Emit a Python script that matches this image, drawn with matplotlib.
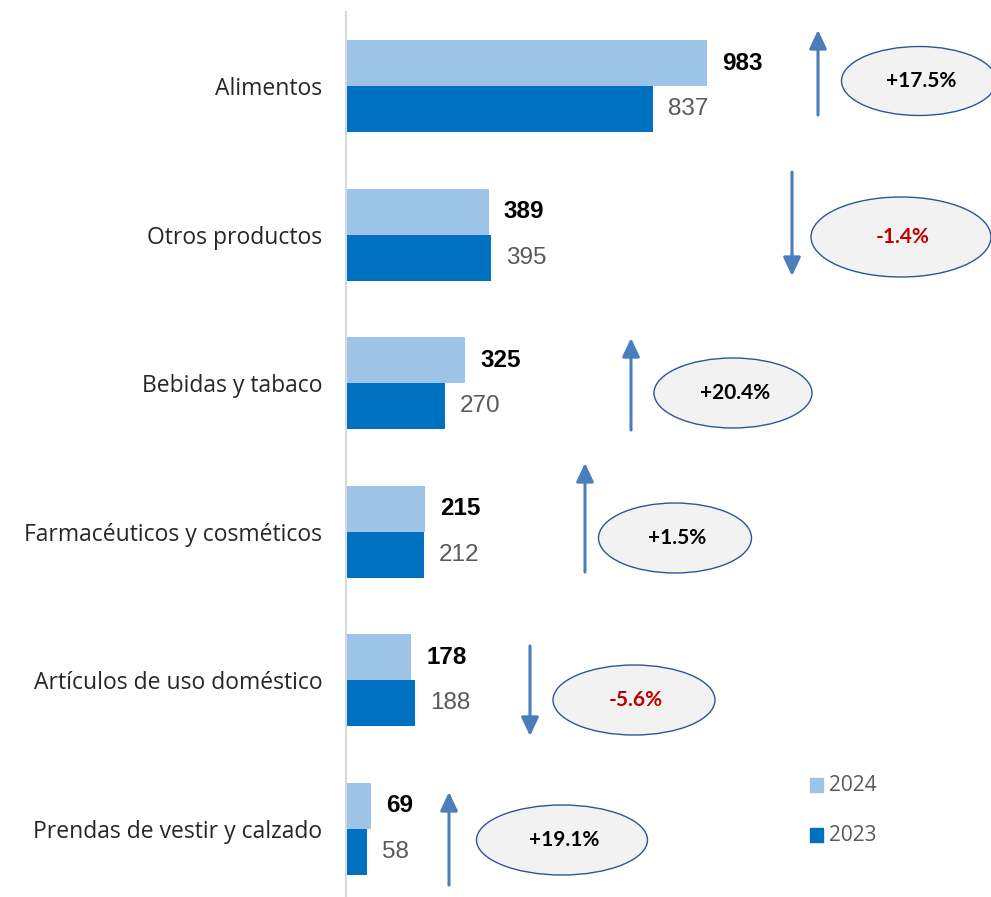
import matplotlib
matplotlib.use("Agg")
import matplotlib.pyplot as plt
from matplotlib.patches import Ellipse, FancyArrowPatch

categories = ["Alimentos", "Otros productos", "Bebidas y tabaco",
              "Farmacéuticos y cosméticos", "Artículos de uso doméstico",
              "Prendas de vestir y calzado"]
values_2024 = [983, 389, 325, 215, 178, 69]
values_2023 = [837, 395, 270, 212, 188, 58]
pct_change = [17.5, -1.4, 20.4, 1.5, -5.6, 19.1]

W, H = 991, 897
fig = plt.figure(figsize=(W / 100, H / 100), dpi=100)
ax_left, ax_top = 346, 12
ax = fig.add_axes([ax_left / W, 0, (W - ax_left) / W, (H - ax_top) / H])

px_per_unit = 361 / 983
row_pitch = 148.6
row0 = 86
xmax = (W - ax_left) / px_per_unit
ax.set_xlim(0, xmax)
ax.set_ylim((H - row0) / row_pitch, (ax_top - row0) / row_pitch)

def px_x(p):
    return (p - ax_left) / px_per_unit

def px_y(p):
    return (p - row0) / row_pitch

c24, c23 = "#9DC3E6", "#0070C0"
bh = 46 / row_pitch
ys = list(range(len(categories)))
ax.barh([y - bh / 2 for y in ys], values_2024, height=bh, color=c24, label="2024")
ax.barh([y + bh / 2 for y in ys], values_2023, height=bh, color=c23, label="2023")

off = 15 / px_per_unit
for y, v24, v23 in zip(ys, values_2024, values_2023):
    ax.text(v24 + off, y - bh / 2, f"{v24}", ha="left", va="center",
            fontsize=17.5, fontweight="bold", color="black", family="Liberation Sans")
    ax.text(v23 + off, y + bh / 2, f"{v23}", ha="left", va="center",
            fontsize=17.5, color="#595959", family="Liberation Sans")

for s in ["top", "right", "bottom"]:
    ax.spines[s].set_visible(False)
ax.spines["left"].set_color("#D9D9D9")
ax.spines["left"].set_linewidth(1.5)
ax.set_xticks([])
ax.set_yticks(ys)
ax.set_yticklabels(categories, family="Open Sans", fontsize=16.5, color="#262626")
ax.tick_params(axis="y", length=0, pad=17)

# change arrows (x, tail y, tip y) and ellipse callouts (cx, cy, w, h), in pixels
arrows_px = [(818, 115, 30), (792, 172, 276), (631, 430, 338),
             (585, 572, 463), (530, 646, 736), (449, 885, 792)]
ellipses_px = [(919, 81, 155, 69), (901, 237, 180, 80), (733, 393, 158, 70),
               (675, 538, 153, 70), (634, 700, 162, 70), (562, 840, 171, 70)]

arrow_col = "#4A7EBB"
for (ax_px, t, h), (cx, cy, ew, eh), pct in zip(arrows_px, ellipses_px, pct_change):
    arr = FancyArrowPatch((px_x(ax_px), px_y(t)), (px_x(ax_px), px_y(h)),
                          arrowstyle="-|>,head_length=7,head_width=3.3",
                          mutation_scale=1.6, color=arrow_col, lw=2.2,
                          shrinkA=0, shrinkB=0, clip_on=False)
    ax.add_patch(arr)
    e = Ellipse((px_x(cx), px_y(cy)), ew / px_per_unit, eh / row_pitch,
                facecolor="#F2F2F2", edgecolor="#2F5597", lw=1.0, clip_on=False)
    ax.add_patch(e)
    txt = f"{pct:+.1f}%"
    ax.text(px_x(cx + 2), px_y(cy), txt, ha="center", va="center",
            fontsize=15, fontweight="bold", family="Lato",
            color="#C00000" if pct < 0 else "black")

# legend
for yy, col, lab in [(785, c24, "2024"), (835, c23, "2023")]:
    fig.patches.append(plt.Rectangle((810 / W, 1 - (yy + 7) / H), 13 / W, 14 / H,
                                     transform=fig.transFigure, color=col))
    fig.text(829 / W, 1 - yy / H, lab, ha="left", va="center",
             family="Open Sans", fontsize=15, color="#595959")

fig.savefig("out.png", dpi=100, facecolor="white")
